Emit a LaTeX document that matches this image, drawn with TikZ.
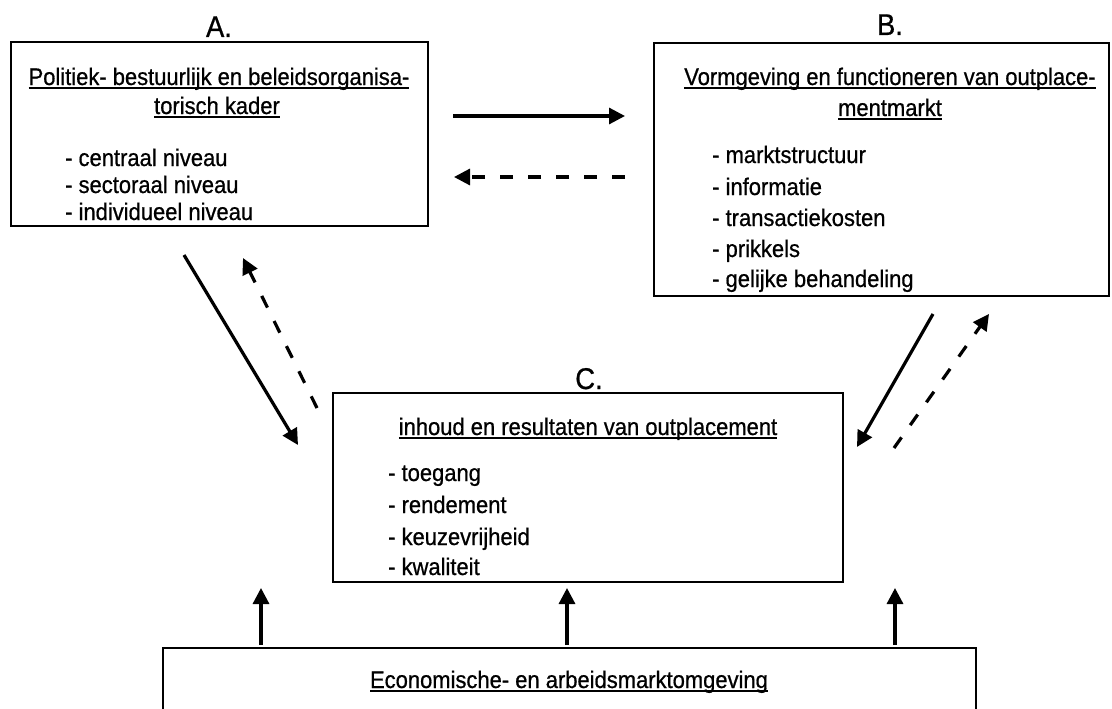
\documentclass[tikz,border=0pt]{standalone}
\usepackage{fontspec}
\setmainfont{Liberation Sans}[FakeBold=0.7,FakeStretch=0.915]
\usetikzlibrary{arrows.meta}
\newcommand\myul[1]{\setbox0\hbox{#1}\rlap{\rule[-4.4pt]{\wd0}{2.2pt}}\box0}
\begin{document}
\begin{tikzpicture}[x=1pt,y=-1pt,
  box/.style={draw,line width=2.4pt,rectangle,inner sep=0pt,outer sep=0pt},
  body/.style={font=\fontsize{24}{28}\selectfont,inner sep=0pt},
  title/.style={body,anchor=base},
  item/.style={body,anchor=base west},
  lbl/.style={font=\fontsize{30}{34}\selectfont,inner sep=0pt,anchor=base},
  arr/.style={line width=3.2pt,-{Triangle[length=16pt,width=16pt]}},
  darr/.style={arr,dash pattern=on 13pt off 15pt}]
\clip (0,0) rectangle (1112,709);
\fill[white] (0,0) rectangle (1112,709);
% boxes
\node[box,minimum width=417pt,minimum height=184pt] (A) at (219.5,134) {};
\node[box,minimum width=455pt,minimum height=253pt] (B) at (881.5,169.5) {};
\node[box,minimum width=510pt,minimum height=189pt] (C) at (588,487.5) {};
\node[box,minimum width=813pt,minimum height=100pt] (D) at (569.5,698) {};
% labels
\node[lbl] (la) at (219,37) {A.};
\node[lbl] (lb) at (890,35) {B.};
\node[lbl] (lc) at (589,389) {C.};
% box A text
\node[title] (a1) at (219,85) {\myul{Politiek- bestuurlijk en beleidsorganisa-}};
\node[title] (a2) at (217,114) {\myul{torisch kader}};
\node[item] (a3) at (65,166) {- centraal niveau};
\node[item] (a4) at (65,193) {- sectoraal niveau};
\node[item] (a5) at (65,220) {- individueel niveau};
% box B text
\node[title] (b1) at (890,85) {\myul{Vormgeving en functioneren van outplace-}};
\node[title] (b2) at (890,116) {\myul{mentmarkt}};
\node[item] (b3) at (712,163) {- marktstructuur};
\node[item] (b4) at (712,195) {- informatie};
\node[item] (b5) at (712,226) {- transactiekosten};
\node[item] (b6) at (712,257) {- prikkels};
\node[item] (b7) at (712,287) {- gelijke behandeling};
% box C text
\node[title] (c1) at (588,435) {\myul{inhoud en resultaten van outplacement}};
\node[item] (c2) at (388,481) {- toegang};
\node[item] (c3) at (388,513) {- rendement};
\node[item] (c4) at (388,545) {- keuzevrijheid};
\node[item] (c5) at (388,575) {- kwaliteit};
% box D text
\node[title] (d1) at (569,688) {\myul{Economische- en arbeidsmarktomgeving}};
% arrow end points
\coordinate (h1s) at (453,116); \coordinate (h1e) at (625,116);
\coordinate (h2s) at (625,177); \coordinate (h2e) at (454,177);
\coordinate (l1s) at (184,255); \coordinate (l1e) at (298,445);
\coordinate (l2s) at (317,408); \coordinate (l2e) at (243,258);
\coordinate (r1s) at (933,314); \coordinate (r1e) at (857,447);
\coordinate (r2s) at (894,448); \coordinate (r2e) at (989,314);
\coordinate (u1s) at (261,645); \coordinate (u1e) at (261,588);
\coordinate (u2s) at (567,645); \coordinate (u2e) at (567,588);
\coordinate (u3s) at (895,645); \coordinate (u3e) at (895,588);
% arrows
\draw[arr] (h1s) -- (h1e);
\draw[darr] (h2s) -- (h2e);
\draw[arr] (l1s) -- (l1e);
\draw[darr] (l2s) -- (l2e);
\draw[arr] (r1s) -- (r1e);
\draw[darr] (r2s) -- (r2e);
\draw[arr] (u1s) -- (u1e);
\draw[arr] (u2s) -- (u2e);
\draw[arr] (u3s) -- (u3e);
\end{tikzpicture}
\end{document}
